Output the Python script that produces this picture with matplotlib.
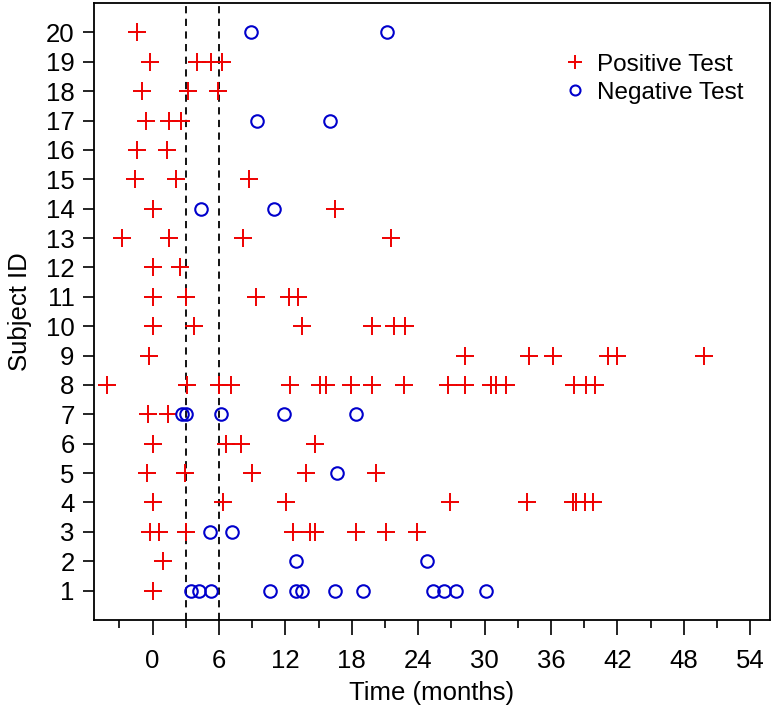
import matplotlib
matplotlib.use("Agg")
import matplotlib.pyplot as plt

plt.rcParams['font.family'] = ['Liberation Sans', 'DejaVu Sans']

# subject ids 1..20
subjects = list(range(1, 21))

# test times (months) per subject
positive_times = {
    1: [0.0],
    2: [0.9],
    3: [-0.2, 0.6, 3.0, 12.7, 14.2, 14.7, 18.4, 21.1, 23.9],
    4: [0.0, 6.4, 12.1, 26.9, 33.8, 38.0, 38.3, 39.1, 39.8],
    5: [-0.5, 2.9, 9.0, 13.9, 20.2],
    6: [0.0, 6.6, 8.0, 14.7],
    7: [-0.4, 1.4],
    8: [-4.1, 3.1, 6.0, 7.1, 12.4, 15.1, 15.7, 17.9, 19.8, 22.7, 26.7,
        28.2, 30.6, 31.0, 31.9, 38.1, 39.2, 40.0],
    9: [-0.3, 28.2, 34.0, 36.2, 41.2, 42.0, 49.8],
    10: [0.0, 3.7, 13.5, 19.8, 21.8, 22.8],
    11: [0.0, 3.0, 9.3, 12.3, 13.1],
    12: [0.0, 2.5],
    13: [-2.8, 1.5, 8.2, 21.5],
    14: [0.0, 16.5],
    15: [-1.6, 2.1, 8.7],
    16: [-1.4, 1.3],
    17: [-0.6, 1.5, 2.6],
    18: [-1.0, 3.2, 5.9],
    19: [-0.2, 4.0, 5.3, 6.3],
    20: [-1.4],
}

negative_times = {
    1: [3.5, 4.2, 5.3, 10.6, 13.0, 13.5, 16.5, 19.0, 25.3, 26.3, 27.4, 30.1],
    2: [13.0, 24.8],
    3: [5.2, 7.2],
    5: [16.7],
    7: [2.7, 3.0, 6.2, 11.9, 18.4],
    14: [4.4, 11.0],
    17: [9.4, 16.0],
    20: [8.9, 21.2],
}

cutoffs = [3, 6]
x_ticks = list(range(0, 55, 6))

pos_x = [t for s in subjects for t in positive_times.get(s, [])]
pos_y = [s for s in subjects for t in positive_times.get(s, [])]
neg_x = [t for s in subjects for t in negative_times.get(s, [])]
neg_y = [s for s in subjects for t in negative_times.get(s, [])]

fig = plt.figure(figsize=(7.76, 7.08), dpi=100)
ax = fig.add_axes([0.1211, 0.1243, 0.8712, 0.8715])

for c in cutoffs:
    ax.axvline(c, color='black', linestyle=(0, (4, 3)), linewidth=1.3, zorder=1)

ax.plot(pos_x, pos_y, linestyle='none', marker='+', markersize=13,
        markeredgewidth=1.4, color='#ee0000', label='Positive Test', zorder=3)
ax.plot(neg_x, neg_y, linestyle='none', marker='o', markersize=9,
        markeredgewidth=1.5, markerfacecolor='none', markeredgecolor='#0000cc',
        label='Negative Test', zorder=3)

ax.set_xlim(-5.3, 55.8)
ax.set_ylim(0, 21)
ax.set_xticks(x_ticks)
ax.set_xticks(list(range(-3, 55, 3)), minor=True)
ax.set_yticks(subjects)
ax.tick_params(axis='x', which='major', length=11, width=1.2, labelsize=18.5, pad=10)
ax.tick_params(axis='x', which='minor', length=6, width=1.2)
ax.tick_params(axis='y', which='major', length=8, width=1.2, labelsize=18.5, pad=6)
for sp in ax.spines.values():
    sp.set_linewidth(1.3)

ax.set_xlabel('Time (months)', fontsize=18.5, labelpad=6)
ax.set_ylabel('Subject ID', fontsize=18.5, labelpad=10)

leg = ax.legend(loc='upper right', bbox_to_anchor=(0.993, 0.953), frameon=False,
                fontsize=17.5, handlelength=0.8, handletextpad=0.5,
                labelspacing=0.25, markerscale=0.8)

fig.savefig('out.png', dpi=100)
